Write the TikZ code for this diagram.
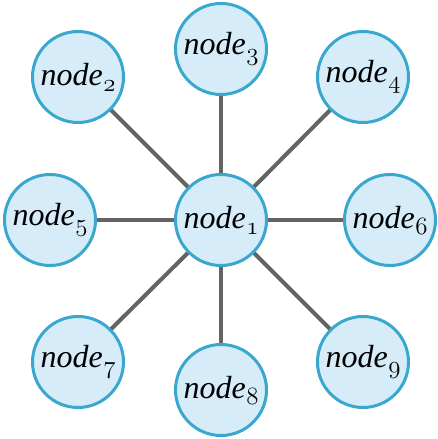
\documentclass[tikz,border=0pt]{standalone}
\usepackage{fontspec}
\setmainfont{Liberation Serif}
\definecolor{ringblue}{RGB}{58,167,206}
\definecolor{fillblue}{RGB}{214,236,249}
\definecolor{edgegray}{RGB}{100,100,100}
% italic name with an old-style subscript digit
\newcommand\nodelabel[1]{\textit{node}\kern0.5pt\raisebox{-6pt}{\fontsize{26}{26}\usefont{OML}{lmm}{m}{it}#1}}
\tikzset{
  vertex/.style={circle, draw=ringblue, fill=fillblue, line width=3pt,
    minimum size=91pt, inner sep=0pt, font=\fontsize{32}{38}\selectfont},
  link/.style={draw=edgegray, line width=4pt}
}
\begin{document}
\begin{tikzpicture}[x=1pt,y=1pt]
\useasboundingbox (0,0) rectangle (437,439);
\node[vertex] (n1) at (221,219) {\nodelabel{1}};
\node[vertex] (n2) at (78,362) {\nodelabel{2}};
\node[vertex] (n3) at (221,390) {\nodelabel{3}};
\node[vertex] (n4) at (363,362) {\nodelabel{4}};
\node[vertex] (n5) at (50,219) {\nodelabel{5}};
\node[vertex] (n6) at (390,219) {\nodelabel{6}};
\node[vertex] (n7) at (78,77) {\nodelabel{7}};
\node[vertex] (n8) at (221,49) {\nodelabel{8}};
\node[vertex] (n9) at (363,77) {\nodelabel{9}};
\foreach \k in {2,...,9} \draw[link] (n1) -- (n\k);
\end{tikzpicture}
\end{document}
